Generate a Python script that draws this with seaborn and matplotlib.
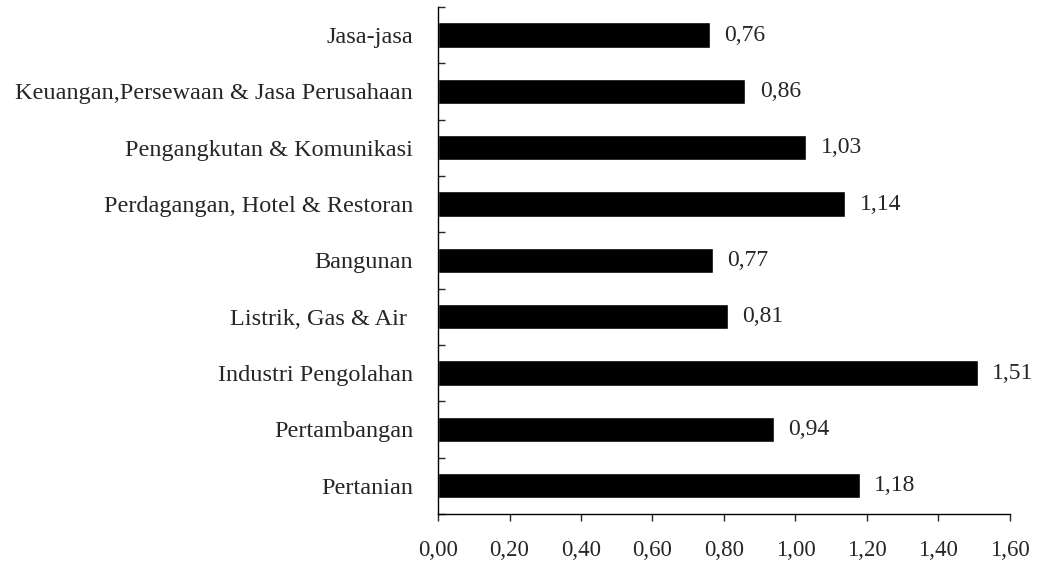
import matplotlib
matplotlib.use("Agg")
import matplotlib.pyplot as plt
import seaborn as sns
import pandas as pd
from matplotlib.ticker import FixedLocator, FuncFormatter

# data (top to bottom as drawn)
sektor = ["Jasa-jasa", "Keuangan,Persewaan & Jasa Perusahaan",
          "Pengangkutan & Komunikasi", "Perdagangan, Hotel & Restoran",
          "Bangunan", "Listrik, Gas & Air ", "Industri Pengolahan",
          "Pertambangan", "Pertanian"]
nilai = [0.76, 0.86, 1.03, 1.14, 0.77, 0.81, 1.51, 0.94, 1.18]

df = pd.DataFrame({"sektor": sektor, "nilai": nilai})

sns.set_style("white")
plt.rcParams['font.family'] = ['Liberation Serif', 'DejaVu Serif']

fig = plt.figure(figsize=(10.39, 5.64), dpi=100)
ax = fig.add_axes([0.4216, 0.0887, 0.972 - 0.4216, 0.9876 - 0.0887])

sns.barplot(data=df, y="sektor", x="nilai", color="black", width=0.45,
            orient="h", ax=ax, saturation=1)

for i, v in enumerate(nilai):
    ax.text(v + 0.04, i, f"{v:.2f}".replace(".", ","), va="center",
            ha="left", fontsize=17)

ax.set_xlim(0, 1.6)
ax.set_ylim(len(sektor) - 0.5, -0.5)
ax.set_xticks([0, 0.2, 0.4, 0.6, 0.8, 1.0, 1.2, 1.4, 1.6])
ax.xaxis.set_major_formatter(FuncFormatter(lambda x, p: f"{x:.2f}".replace(".", ",")))
ax.set_xlabel("")
ax.set_ylabel("")

# category labels without tick marks, boundary ticks pointing inward
ax.tick_params(axis="y", which="major", length=0, pad=18, labelsize=17.5)
ax.yaxis.set_minor_locator(FixedLocator([i - 0.5 for i in range(len(sektor) + 1)]))
ax.tick_params(axis="y", which="minor", direction="in", length=5, width=1, left=True)
ax.tick_params(axis="x", which="major", direction="out", length=5, width=1,
               bottom=True, labelsize=16.5, pad=14)

for s in ["top", "right"]:
    ax.spines[s].set_visible(False)
for s in ["left", "bottom"]:
    ax.spines[s].set_color("black")
    ax.spines[s].set_linewidth(1)

fig.savefig("out.png", dpi=100)
